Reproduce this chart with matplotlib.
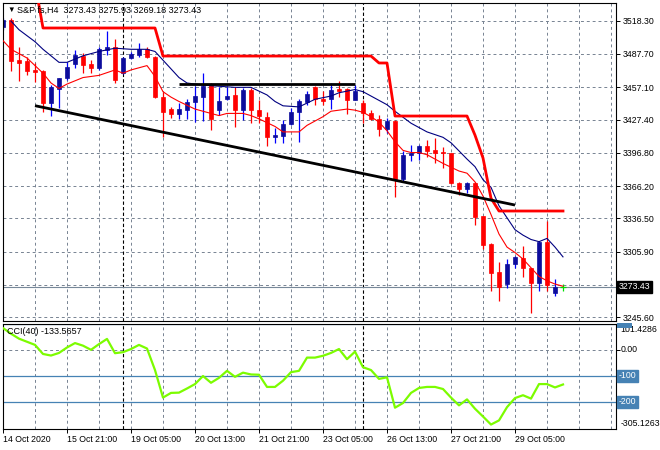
import matplotlib
matplotlib.use("Agg")
import matplotlib.pyplot as plt
from matplotlib.patches import Rectangle
import numpy as np

plt.rcParams['font.family'] = ['Liberation Sans', 'DejaVu Sans']

# H4 bars, S&P futures, 14 Oct - 29 Oct 2020
opens = [3512.5, 3518.9, 3482.1, 3481.5, 3472.9, 3472.0, 3442.3, 3455.2, 3465.3, 3478.5,
         3485.8, 3478.5, 3474.5, 3491.3, 3493.8, 3470.4, 3483.7, 3486.7, 3492.0, 3484.9,
         3448.4, 3436.8, 3432.2, 3436.1, 3443.8, 3448.4, 3460.1, 3436.1, 3446.0, 3449.9,
         3436.1, 3454.5, 3436.1, 3429.4, 3411.6, 3412.2, 3423.3, 3434.6, 3443.8, 3457.0,
         3446.0, 3446.0, 3455.2, 3455.2, 3445.3, 3442.3, 3433.7, 3427.9, 3418.4, 3426.0,
         3372.4, 3394.3, 3396.9, 3403.0, 3399.3, 3397.2, 3396.3, 3369.0, 3363.5, 3369.0,
         3338.6, 3312.9, 3287.4, 3276.1, 3294.2, 3299.7, 3290.5, 3277.3, 3315.0, 3268.1,
         3273.43]
highs = [3520.8, 3521.0, 3494.4, 3485.2, 3479.1, 3473.0, 3459.1, 3466.0, 3480.6, 3491.3,
         3488.3, 3482.1, 3494.4, 3509.1, 3501.2, 3485.2, 3489.8, 3497.5, 3494.4, 3485.8,
         3452.7, 3439.2, 3442.6, 3446.3, 3458.2, 3469.9, 3461.2, 3457.6, 3457.6, 3457.6,
         3456.1, 3456.1, 3445.3, 3434.6, 3419.6, 3426.9, 3438.0, 3446.0, 3453.9, 3458.0,
         3453.9, 3460.7, 3462.4, 3456.0, 3459.1, 3445.3, 3436.1, 3431.5, 3428.8, 3426.9,
         3398.7, 3403.5, 3403.9, 3408.5, 3410.1, 3402.4, 3397.0, 3369.5, 3369.9, 3369.9,
         3339.0, 3314.1, 3296.6, 3298.8, 3301.8, 3311.0, 3291.0, 3316.0, 3334.3, 3280.4,
         3275.93]
lows = [3509.7, 3472.3, 3463.1, 3468.3, 3462.2, 3434.6, 3430.6, 3437.7, 3463.7, 3474.5,
        3469.9, 3469.9, 3472.9, 3486.7, 3461.2, 3469.3, 3482.8, 3485.2, 3483.7, 3447.2,
        3411.3, 3428.5, 3427.9, 3427.9, 3425.4, 3426.0, 3417.7, 3431.5, 3445.3, 3420.8,
        3427.0, 3424.5, 3424.5, 3403.0, 3406.1, 3406.1, 3422.3, 3407.0, 3440.7, 3440.7,
        3440.7, 3436.8, 3448.1, 3432.5, 3445.0, 3423.9, 3427.0, 3411.9, 3414.7, 3356.4,
        3370.2, 3389.5, 3390.1, 3393.2, 3387.6, 3382.5, 3368.0, 3357.9, 3360.1, 3330.3,
        3308.0, 3269.9, 3260.7, 3272.6, 3290.5, 3282.2, 3249.7, 3269.9, 3269.9, 3265.0,
        3269.18]
closes = [3518.9, 3481.5, 3479.1, 3472.3, 3470.8, 3442.3, 3457.0, 3465.3, 3476.0, 3486.7,
          3477.5, 3474.5, 3492.0, 3493.8, 3463.7, 3483.7, 3487.4, 3492.0, 3484.6, 3448.4,
          3434.6, 3432.2, 3436.8, 3443.8, 3449.0, 3458.2, 3427.6, 3444.7, 3449.0, 3436.1,
          3454.5, 3436.1, 3430.9, 3411.6, 3413.1, 3423.3, 3434.6, 3444.7, 3450.9, 3446.0,
          3444.7, 3454.5, 3453.9, 3445.3, 3453.9, 3433.1, 3427.6, 3418.4, 3426.0, 3372.4,
          3394.3, 3396.9, 3403.0, 3398.7, 3397.0, 3396.6, 3369.2, 3363.5, 3369.0, 3338.1,
          3312.0, 3286.4, 3273.6, 3294.5, 3300.6, 3290.5, 3277.3, 3315.0, 3275.1, 3273.4,
          3273.43]

# moving averages (bar index, price)
ma_slow_idx = [1, 2, 4, 5, 7, 8, 10, 12, 14, 16, 18, 19, 20, 21, 22, 23, 25, 27, 29, 31,
               33, 34, 35, 37, 39, 41, 42, 44, 45, 46, 48, 49, 51, 53, 55, 56, 58, 59, 60,
               61, 62, 63, 64, 65, 66, 67, 68, 69, 70]
ma_slow = [3518, 3510, 3499, 3492, 3480, 3480, 3486, 3490, 3493, 3492, 3492, 3490, 3482,
           3474, 3466, 3461, 3459, 3458, 3457, 3457, 3450, 3444, 3440, 3439, 3446, 3449,
           3452, 3455, 3453, 3449, 3441, 3435, 3424, 3416, 3411, 3406, 3391, 3384, 3372,
           3365, 3348, 3337, 3326, 3321, 3317, 3315, 3318, 3310, 3301]
ma_fast_idx = [0, 1, 3, 5, 6, 7, 8, 10, 12, 14, 15, 16, 18, 19, 20, 21, 22, 24, 26, 27,
               28, 30, 31, 32, 34, 35, 37, 38, 40, 41, 43, 44, 45, 46, 47, 48, 49, 50, 51,
               52, 53, 55, 57, 58, 59, 60, 61, 62, 63, 64, 65, 66, 67, 68, 69, 70]
ma_fast = [3500, 3492, 3484, 3470, 3461, 3456, 3460, 3466, 3468, 3473, 3470, 3473, 3477,
           3467, 3453, 3448, 3444, 3437, 3433, 3431, 3433, 3433, 3431, 3428, 3421, 3416,
           3416, 3422, 3430, 3435, 3437, 3436, 3434, 3430, 3425, 3417, 3407, 3399, 3397,
           3397, 3395, 3387, 3380, 3378, 3370, 3357, 3340, 3322, 3310, 3305, 3299, 3291,
           3283, 3279, 3276, 3274]

# thick red stop line, one value per bar
stop_line = [3575, 3575, 3575, 3575, 3553] + [3511.6] * 15 + [3485.8] * 27 + [3479.4] * 2 \
    + [3430.6] * 10 + [3413, 3392, 3355] + [3343.2] * 9

# drawn trend lines
trend_idx = [4, 64]
trend_val = [3440.1, 3348.7]
flat_idx = [22, 44]
flat_val = [3460.0, 3460.0]

cci = [84, 62, 43, 31, 19, -16, -22, -12, 9, 26, 16, 0, 22, 42, -13, -9, 3, 19, 5, -78,
       -184, -166, -165, -149, -132, -101, -127, -108, -81, -104, -88, -95, -96, -143,
       -143, -119, -86, -81, -30, -30, -23, -12, 3, -36, -7, -67, -78, -112, -106, -223,
       -205, -166, -147, -143, -143, -151, -184, -214, -191, -227, -257, -288, -272, -221,
       -186, -175, -188, -132, -132, -145, -133.5657]

price_ticks = [3518.30, 3487.70, 3457.10, 3427.40, 3396.80, 3366.20, 3336.50, 3305.90,
               3275.30, 3245.60]
date_pos = [0, 8, 16, 24, 32, 40, 48, 56, 64]
date_labels = ['14 Oct 2020', '15 Oct 21:00', '19 Oct 05:00', '20 Oct 13:00',
               '21 Oct 21:00', '23 Oct 05:00', '26 Oct 13:00', '27 Oct 21:00',
               '29 Oct 05:00']
week_sep = [15, 45]
last_price = 3273.43

grid_kw = dict(color='#778392', lw=0.7, ls=(0, (3, 3)), zorder=0.5)
bull_body, bull_wick, bear = '#0c0c9c', '#0000ff', '#ff0000'
level_col = '#4682b4'

fig = plt.figure(figsize=(6.6, 4.5), dpi=100)
ax = fig.add_axes([3/660, 1-321/450, 613/660, 318/450])
ax2 = fig.add_axes([3/660, 1-429/450, 613/660, 105.5/450])

x = np.arange(len(opens))
o, h, l, c = map(np.array, (opens, highs, lows, closes))

for axis in (ax, ax2):
    axis.set_xlim(0, 76.625)
    for gx in range(4, 77, 4):
        axis.axvline(gx, **grid_kw)
    for sx in week_sep:
        axis.axvline(sx, color='black', lw=0.8, ls=(0, (3, 2)), zorder=0.6)
    for sp in axis.spines.values():
        sp.set_color('black')
        sp.set_linewidth(0.8)

# ---- price panel
ax.set_ylim(3242.0, 3534.6)
for p in price_ticks:
    ax.axhline(p, **grid_kw)

up = c > o
dn = c < o
doji = c == o
ax.vlines(x[up], l[up], h[up], color=bull_wick, lw=0.9, zorder=2)
ax.vlines(x[dn], l[dn], h[dn], color=bear, lw=0.9, zorder=2)
body_lo = np.minimum(o, c)
body_h = np.maximum(np.abs(c - o), 0.8)
ax.bar(x[up], body_h[up], bottom=body_lo[up], width=0.6, color=bull_body,
       edgecolor=bull_body, lw=0.5, zorder=2.1)
ax.bar(x[dn], body_h[dn], bottom=body_lo[dn], width=0.6, color=bear,
       edgecolor=bear, lw=0.5, zorder=2.1)
ax.vlines(x[doji], l[doji], h[doji], color='#00e000', lw=0.9, zorder=2)
ax.hlines(c[doji], x[doji] - 0.35, x[doji] + 0.35, color='#00e000', lw=0.9, zorder=2)

ax.plot(ma_slow_idx, ma_slow, color='#000080', lw=0.8, zorder=3)
ax.plot(ma_fast_idx, ma_fast, color='#ff0000', lw=0.8, zorder=3)
ax.plot(x, stop_line, color='#ff0000', lw=2.0, zorder=3.2)
ax.plot(trend_idx, trend_val, color='black', lw=2.0, zorder=4, solid_capstyle='butt')
ax.plot(flat_idx, flat_val, color='black', lw=2.0, zorder=4, solid_capstyle='butt')

ax.axhline(last_price, color='#778899', lw=0.8, zorder=1)

ax.yaxis.tick_right()
ax.set_yticks(price_ticks)
ax.set_yticklabels(['' if abs(p - 3275.30) < 0.01 else f'{p:.2f}' for p in price_ticks])
ax.tick_params(axis='y', direction='out', length=3, pad=1.5, labelsize=6.3, width=0.7)
ax.set_xticks([])
ax.annotate(f'{last_price:.2f}', xy=(1, last_price), xycoords=('axes fraction', 'data'),
            xytext=(2, 0), textcoords='offset points', ha='left', va='center',
            fontsize=6.3, color='white',
            bbox=dict(boxstyle='square,pad=0.2', fc='black', ec='black'))

fig.text(7/660, 1-10/450, '\u25bc', fontsize=5.5, va='center', ha='left')
fig.text(17/660, 1-10/450, 'S&P fs,H4  3273.43 3275.93 3269.18 3273.43',
         fontsize=6.5, va='center', ha='left')

# ---- CCI panel
cci_lo, cci_hi = -305.1263, 101.4286
ax2.set_ylim(cci_lo, cci_hi)
ax2.axhline(0, **grid_kw)
for lev in (100, -100, -200):
    ax2.axhline(lev, color=level_col, lw=0.9, zorder=1)
ax2.plot(x, cci, color='#7cfc00', lw=1.6, zorder=3)

ax2.yaxis.tick_right()
ax2.set_yticks([0, -100, -200])
ax2.set_yticklabels([])
ax2.tick_params(axis='y', direction='out', length=3, width=0.7)
ax2.set_xticks(date_pos)
ax2.set_xticklabels(date_labels)
ax2.tick_params(axis='x', direction='out', length=3, pad=1.5, labelsize=6.3, width=0.7)
for lbl in ax2.get_xticklabels():
    lbl.set_ha('left')

# level-100 marker box, mostly hidden behind the top value label
fig.patches.append(Rectangle((617/660, 1-327.5/450), 15/660, 5/450, transform=fig.transFigure,
                             facecolor=level_col, edgecolor='none', zorder=1))

ylab = dict(xycoords=('axes fraction', 'data'), textcoords='offset points',
            ha='left', va='center', fontsize=6.3)
ax2.annotate(f'{cci_hi:.4f}', xy=(1, cci_hi), xytext=(3, -4.5), color='black',
             zorder=5, **ylab)
ax2.annotate('0.00', xy=(1, 0), xytext=(3, 0), color='black', **ylab)
for lev in (-100, -200):
    ax2.annotate(str(lev), xy=(1, lev), xytext=(2, 0), color='white',
                 bbox=dict(boxstyle='square,pad=0.15', fc=level_col, ec=level_col), **ylab)
ax2.annotate(f'{cci_lo:.4f}', xy=(1, cci_lo), xytext=(3, 4), color='black', **ylab)

ax2.text(0.0065, 0.92, f'CCI(40) {cci[-1]:.4f}', transform=ax2.transAxes,
         fontsize=6.5, va='center', ha='left')

fig.savefig('out.png', dpi=100, facecolor='white')
